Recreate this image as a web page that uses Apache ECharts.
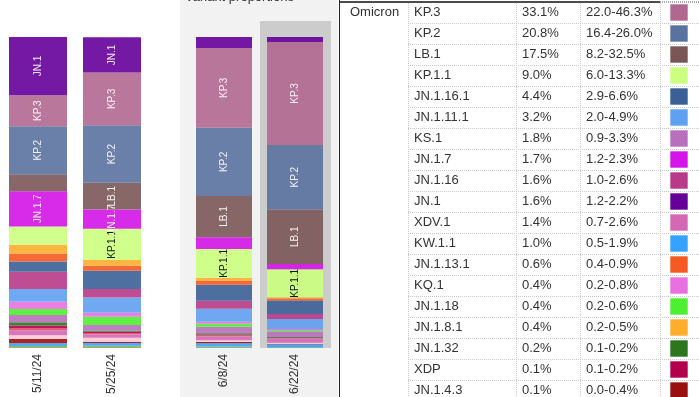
<!DOCTYPE html>
<html>
<head>
<meta charset="utf-8">
<script src="https://cdn.jsdelivr.net/npm/echarts@6/dist/echarts.min.js"></script>
<style>
  html, body { margin: 0; padding: 0; background: #fff; }
  #container { width: 699px; height: 397px; }
</style>
</head>
<body>
<div id="container"></div>
<script>
var dom = document.getElementById('container');
var myChart = echarts.init(dom, null, { renderer: 'canvas' });

// weeks shown in the bars
var dates = ['5/11/24', '5/25/24', '6/8/24', '6/22/24'];

// lineages, top of the stack first
var lineages = ['JN.1', 'KP.3', 'KP.2', 'LB.1', 'JN.1.7', 'KP.1.1', 'JN.1.8.1', 'JN.1.13.1',
  'JN.1.16.1', 'JN.1.16', 'JN.1.11.1', 'KQ.1', 'JN.1.18', 'KS.1', 'JN.1.32', 'XDP',
  'JN.1.13', 'XDV.1', 'KP.2.3', 'JN.1.4.3', 'KW.1.1', 'BA.2.86.1'];
var colors = ['#650099', '#b06890', '#5a72a0', '#7a5656', '#d414e8', '#ccff80', '#ffad2a', '#f55a22',
  '#3a6096', '#b83a88', '#60a0f0', '#e870e0', '#4cf030', '#b870bc', '#2c761e', '#b4004c',
  '#e04c70', '#d468b4', '#ffc8d6', '#9a1010', '#36a2ff', '#7fb060'];

// share (%) per lineage, same order as lineages
var week1 = [18.7, 10.0, 15.4, 5.5, 11.3, 5.9, 2.8, 2.6, 3.3, 5.5, 4.1, 2.4, 1.9, 2.3, 1.1, 0.8, 0.8, 1.5, 1.2, 1.4, 0.9, 0.6];
var week2 = [11.3, 17.0, 18.5, 8.6, 6.2, 10.0, 1.9, 1.6, 5.8, 2.8, 4.9, 1.3, 2.6, 1.8, 0.4, 0.4, 0.5, 1.0, 1.3, 0.4, 0.9, 0.7];
var week3 = [3.5, 25.7, 21.9, 13.3, 3.8, 9.2, 1.0, 1.3, 5.1, 2.6, 4.2, 0.6, 1.0, 2.1, 0.4, 0.3, 0.3, 1.2, 0.6, 0.4, 1.0, 0.5];
var week4 = [1.6, 33.1, 20.8, 17.5, 1.7, 9.0, 0.4, 0.6, 4.4, 1.6, 3.2, 0.4, 0.4, 1.8, 0.2, 0.1, 0.1, 1.4, 0.4, 0.1, 1.0, 0.2];

// table for the last week
var tableLineages = ['KP.3', 'KP.2', 'LB.1', 'KP.1.1', 'JN.1.16.1', 'JN.1.11.1', 'KS.1', 'JN.1.7', 'JN.1.16',
  'JN.1', 'XDV.1', 'KW.1.1', 'JN.1.13.1', 'KQ.1', 'JN.1.18', 'JN.1.8.1', 'JN.1.32', 'XDP', 'JN.1.4.3'];
var tableShares = ['33.1%', '20.8%', '17.5%', '9.0%', '4.4%', '3.2%', '1.8%', '1.7%', '1.6%',
  '1.6%', '1.4%', '1.0%', '0.6%', '0.4%', '0.4%', '0.4%', '0.2%', '0.1%', '0.1%'];
var tableRanges = ['22.0-46.3%', '16.4-26.0%', '8.2-32.5%', '6.0-13.3%', '2.9-6.6%', '2.0-4.9%', '0.9-3.3%',
  '1.2-2.3%', '1.0-2.6%', '1.2-2.2%', '0.7-2.6%', '0.5-1.9%', '0.4-0.9%', '0.2-0.8%', '0.2-0.6%',
  '0.2-0.5%', '0.1-0.2%', '0.1-0.2%', '0.0-0.4%'];

var weeks = [week1, week2, week3, week4];
var fontTxt = 'Liberation Sans, Arial, sans-serif';

function makeSeries(g, barWidth) {
  var out = [];
  for (var i = lineages.length - 1; i >= 0; i--) {
    var data = [];
    for (var k = 0; k < 2; k++) {
      var v = weeks[g * 2 + k][i];
      data.push({
        value: v,
        label: {
          show: v >= 6,
          position: 'inside',
          rotate: 90,
          formatter: lineages[i],
          color: lineages[i] === 'KP.1.1' ? '#000' : '#fff',
          fontSize: 10,
          fontFamily: fontTxt
        }
      });
    }
    out.push({
      type: 'bar',
      name: lineages[i],
      xAxisIndex: g,
      yAxisIndex: g,
      stack: 'w' + g,
      barWidth: barWidth,
      itemStyle: { color: colors[i], opacity: 0.9 },
      emphasis: { disabled: true },
      data: data
    });
  }
  return out;
}

// table drawn as graphic elements
var graphics = [
  { type: 'rect', z: -10, shape: { x: 180, y: 0, width: 158, height: 397 }, style: { fill: '#f2f2f2' } },
  { type: 'rect', z: -9, shape: { x: 260, y: 21, width: 71, height: 327 }, style: { fill: '#cccccc' } },
  { type: 'text', z: 5, x: 185, y: -3, style: { text: 'Variant proportions', fontSize: 13, fontFamily: fontTxt,
    fill: '#333', verticalAlign: 'middle', lineHeight: 13 } },
  { type: 'line', z: 5, shape: { x1: 339.5, y1: 0, x2: 339.5, y2: 397 }, style: { stroke: '#222', lineWidth: 1 } },
  { type: 'line', z: 5, shape: { x1: 340, y1: 2, x2: 660, y2: 2 }, style: { stroke: '#111', lineWidth: 1.5 } },
  { type: 'line', z: 5, shape: { x1: 660, y1: 2, x2: 699, y2: 2 }, style: { stroke: '#555', lineWidth: 1, lineDash: [1, 1] } },
  { type: 'text', z: 5, x: 350, y: 12.5, style: { text: 'Omicron', fontSize: 13, fontFamily: fontTxt, fill: '#333', verticalAlign: 'middle' } }
];
[408.5, 516.5, 580.5, 660.5].forEach(function (x) {
  graphics.push({ type: 'line', z: 4, shape: { x1: x, y1: 3, x2: x, y2: 397 },
    style: { stroke: '#c8c8c8', lineWidth: 1, lineDash: [1, 1] } });
});
tableLineages.forEach(function (name, r) {
  var cy = 12.5 + r * 21;
  if (r > 0) {
    graphics.push({ type: 'line', z: 4, shape: { x1: 408, y1: 2.5 + r * 21, x2: 699, y2: 2.5 + r * 21 },
      style: { stroke: '#c8c8c8', lineWidth: 1, lineDash: [1, 1] } });
  }
  graphics.push({ type: 'text', z: 5, x: 414, y: cy, style: { text: name, fontSize: 13, fontFamily: fontTxt, fill: '#333', verticalAlign: 'middle' } });
  graphics.push({ type: 'text', z: 5, x: 522, y: cy, style: { text: tableShares[r], fontSize: 13, fontFamily: fontTxt, fill: '#333', verticalAlign: 'middle' } });
  graphics.push({ type: 'text', z: 5, x: 586, y: cy, style: { text: tableRanges[r], fontSize: 13, fontFamily: fontTxt, fill: '#333', verticalAlign: 'middle' } });
  graphics.push({ type: 'rect', z: 5, shape: { x: 670, y: cy - 8.5, width: 18, height: 17 },
    style: { fill: colors[lineages.indexOf(name)], stroke: 'rgba(255,255,255,0.6)', lineWidth: 1 } });
});

function xAxisFor(g) {
  return {
    type: 'category',
    gridIndex: g,
    data: dates.slice(g * 2, g * 2 + 2),
    axisLine: { show: false },
    axisTick: { show: false },
    axisLabel: { rotate: 90, fontSize: 12, color: '#333', margin: 6, fontFamily: fontTxt }
  };
}
function yAxisFor(g) {
  return { type: 'value', gridIndex: g, min: 0, max: 100, show: false };
}

option = {
  animation: false,
  grid: [
    { left: 1, width: 148, top: 37, bottom: 49 },
    { left: 188.5, width: 142, top: 37, bottom: 49 }
  ],
  xAxis: [xAxisFor(0), xAxisFor(1)],
  yAxis: [yAxisFor(0), yAxisFor(1)],
  graphic: graphics,
  series: makeSeries(0, 58).concat(makeSeries(1, 56))
};

myChart.setOption(option);
window.addEventListener('resize', myChart.resize);
</script>
</body>
</html>
